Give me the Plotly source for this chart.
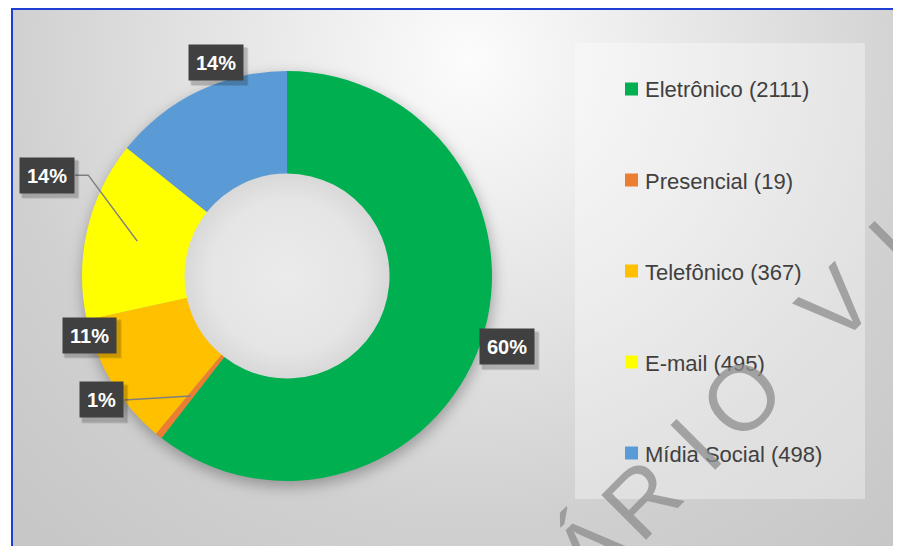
import math
import base64
import plotly.graph_objects as go

# ---------------- data ----------------
categories = ["Eletrônico", "Presencial", "Telefônico", "E-mail", "Mídia Social"]
values = [2111, 19, 367, 495, 498]
colors = ["#00B050", "#ED7D31", "#FFC000", "#FFFF00", "#5B9BD5"]

# ---------------- layout constants (page px) ----------------
PAGE_W, PAGE_H = 901, 554
OFF = 8                      # default body margin of the html page
W, H = PAGE_W - 2 * OFF, PAGE_H - 2 * OFF
CX, CY = 287, 276
R_OUT = 205
HOLE = 0.5
R_IN = R_OUT * HOLE
R_MID = (R_OUT + R_IN) / 2

# data-label offsets from each slice's mid-ring anchor, and leader-line elbows
label_offsets = [(75, 21), (-89, 4), (-66, -21), (-90, -66), (-4, -75)]
leader_elbow = [None, 0, None, 13, None]
LBL_FONT = 20
LBL_PAD = 7
LBL_H = 21

LEG_X = 625
LEG_Y0 = 89
LEG_DY = 91
LEG_SQ = 13
LEG_BOX = (575, 43, 865, 499)

FONT = "Liberation Sans, Arial, sans-serif"


def px(x):
    return (x - OFF) / W


def py(y):
    return 1 - (y - OFF) / H


# ---------------- background (gradient, shadow, legend panel, border) ----------------
svg = f'''<svg xmlns="http://www.w3.org/2000/svg" width="{W}" height="{H}" viewBox="0 0 {W} {H}">
<defs>
<radialGradient id="bg" gradientUnits="userSpaceOnUse" cx="470" cy="60" r="640">
<stop offset="0" stop-color="#fcfcfc"/>
<stop offset="0.42" stop-color="#e3e3e3"/>
<stop offset="0.72" stop-color="#d0d0d0"/>
<stop offset="1" stop-color="#c7c7c7"/>
</radialGradient>
<radialGradient id="hole" gradientUnits="userSpaceOnUse" cx="{CX}" cy="{CY}" r="{R_IN}">
<stop offset="0" stop-color="#ebebeb"/>
<stop offset="0.75" stop-color="#e5e5e5"/>
<stop offset="1" stop-color="#d8d8d8"/>
</radialGradient>
<filter id="blur" x="-30%" y="-30%" width="160%" height="160%"><feGaussianBlur stdDeviation="7"/></filter>
<filter id="sblur" x="-30%" y="-30%" width="160%" height="160%"><feGaussianBlur stdDeviation="2"/></filter>
</defs>
<g transform="translate({-OFF},{-OFF})">
<rect x="0" y="0" width="{PAGE_W + 20}" height="{PAGE_H + 20}" fill="#ffffff"/>
<rect x="11" y="9" width="{PAGE_W}" height="{PAGE_H}" fill="url(#bg)"/>
<circle cx="{CX + 1}" cy="{CY + 5}" r="{R_OUT + 1}" fill="#000" fill-opacity="0.28" filter="url(#blur)"/>
<circle cx="{CX}" cy="{CY}" r="{R_IN + 1}" fill="url(#hole)"/>
<rect x="{LEG_BOX[0]}" y="{LEG_BOX[1]}" width="{LEG_BOX[2] - LEG_BOX[0]}" height="{LEG_BOX[3] - LEG_BOX[1]}" fill="#ffffff" fill-opacity="0.35"/>
<rect x="12" y="9" width="{PAGE_W + 20}" height="{PAGE_H + 20}" fill="none" stroke="#1f3fd2" stroke-width="2"/>
</g>
</svg>'''
bg_uri = "data:image/svg+xml;base64," + base64.b64encode(svg.encode("utf-8")).decode("ascii")

# ---------------- figure ----------------
fig = go.Figure(
    go.Pie(
        labels=categories,
        values=values,
        sort=False,
        direction="clockwise",
        rotation=0,
        hole=HOLE,
        marker=dict(colors=colors, line=dict(width=0)),
        textinfo="none",
        hoverinfo="label+value+percent",
        showlegend=False,
        domain=dict(x=[px(CX - R_OUT), px(CX + R_OUT)], y=[py(CY + R_OUT), py(CY - R_OUT)]),
    )
)

annotations = []
shapes = []

total = sum(values)
cum = 0
bold_w = {"0": .556, "1": .556, "2": .556, "3": .556, "4": .556, "5": .556,
          "6": .556, "7": .556, "8": .556, "9": .556, "%": .889}
for i, v in enumerate(values):
    mid = (cum + v / 2) / total * 2 * math.pi
    cum += v
    ax = CX + R_MID * math.sin(mid)
    ay = CY - R_MID * math.cos(mid)
    dx, dy = label_offsets[i]
    lx, ly = ax + dx, ay + dy
    txt = f"{v / total:.0%}"
    tw = sum(bold_w.get(c, .6) for c in txt) * LBL_FONT
    half_w = tw / 2 + LBL_PAD + 1
    half_h = LBL_H / 2 + LBL_PAD + 1
    if leader_elbow[i] is not None:
        sx = lx + half_w
        ex = sx + leader_elbow[i]
        shapes.append(dict(
            type="path", xref="paper", yref="paper", layer="above",
            path=f"M {px(sx)} {py(ly)} L {px(ex)} {py(ly)} L {px(ax)} {py(ay)}",
            line=dict(color="#7f7f7f", width=1.5),
        ))
    # soft box shadow
    for k, op in ((4, 0.10), (3, 0.12)):
        shapes.append(dict(
            type="rect", xref="paper", yref="paper", layer="above",
            x0=px(lx - half_w + k - 1), x1=px(lx + half_w + k),
            y0=py(ly + half_h + k + 1), y1=py(ly - half_h + k),
            fillcolor=f"rgba(0,0,0,{op})", line=dict(width=0),
        ))
    annotations.append(dict(
        x=px(lx), y=py(ly), xref="paper", yref="paper", showarrow=False,
        text=f"<b>{txt}</b>", font=dict(family=FONT, size=LBL_FONT, color="#ffffff"),
        bgcolor="#404040", borderpad=LBL_PAD, height=LBL_H,
        xanchor="center", yanchor="middle",
    ))

# custom legend
for i, (cat, val, col) in enumerate(zip(categories, values, colors)):
    yc = LEG_Y0 + i * LEG_DY
    shapes.append(dict(
        type="rect", xref="paper", yref="paper", layer="above",
        x0=px(LEG_X), x1=px(LEG_X + LEG_SQ), y0=py(yc + LEG_SQ / 2), y1=py(yc - LEG_SQ / 2),
        fillcolor=col, line=dict(width=0),
    ))
    annotations.append(dict(
        x=px(LEG_X + LEG_SQ + 5), y=py(yc + 1), xref="paper", yref="paper", showarrow=False,
        text=f"{cat} ({val})", font=dict(family=FONT, size=22, color="#404040"),
        xanchor="left", yanchor="middle",
    ))

# watermark letters along a rotated baseline
wm_letters = ["Á", "R", "I", "O", "V", "I"]
wm_pos = [30, 101, 178, 244, 376, 458]
WM_PERP = -806
for ch, s in zip(wm_letters, wm_pos):
    x = 0.7071 * s - 0.7071 * WM_PERP
    y = -0.7071 * s - 0.7071 * WM_PERP
    annotations.append(dict(
        x=px(x), y=py(y), xref="paper", yref="paper", showarrow=False,
        text=ch, textangle=-45, font=dict(family=FONT, size=92, color="rgba(140,140,140,0.75)"),
        xanchor="center", yanchor="middle",
    ))

fig.update_layout(
    width=W, height=H, autosize=False,
    margin=dict(l=0, r=0, t=0, b=0),
    paper_bgcolor="#ffffff",
    plot_bgcolor="#ffffff",
    showlegend=False,
    images=[dict(source=bg_uri, xref="paper", yref="paper", x=0, y=1, sizex=1, sizey=1,
                 xanchor="left", yanchor="top", sizing="stretch", layer="below")],
    shapes=shapes,
    annotations=annotations,
)

fig.write_html("out.html")
